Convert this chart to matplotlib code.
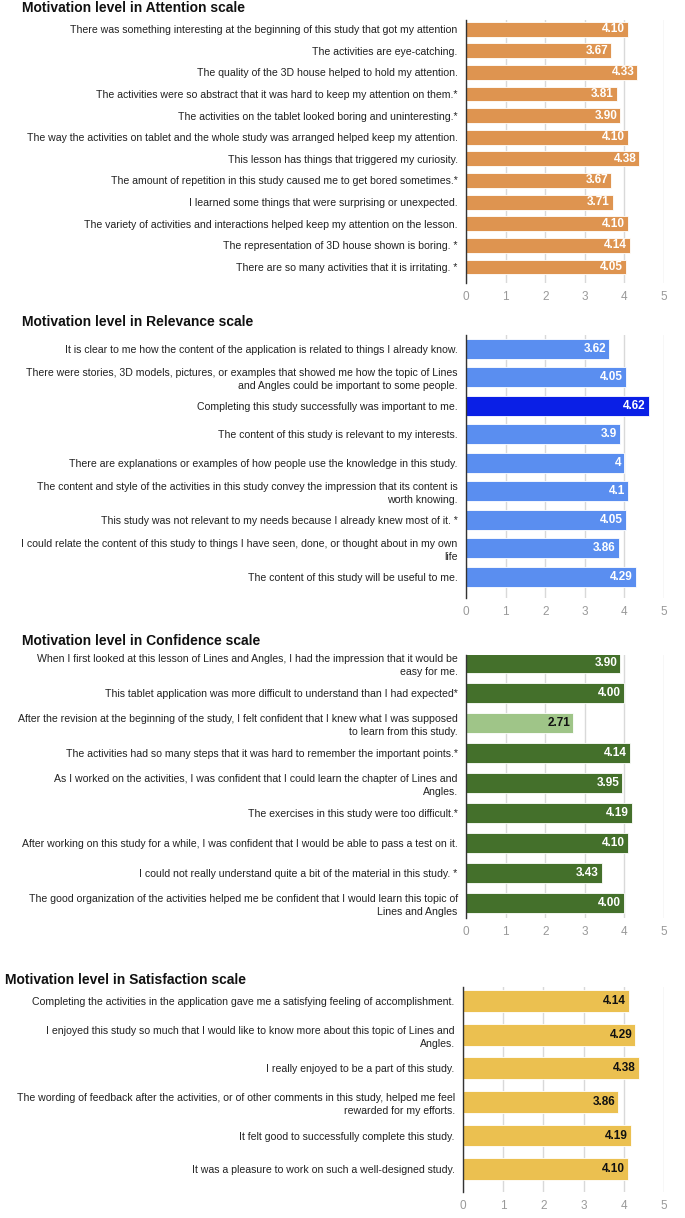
import matplotlib.pyplot as plt

plt.rcParams['font.family'] = ['Liberation Sans Narrow', 'Liberation Sans', 'DejaVu Sans']

# --- data ---
attention_labels = [
    "There was something interesting at the beginning of this study that got my attention",
    "The activities are eye-catching.",
    "The quality of the 3D house helped to hold my attention.",
    "The activities were so abstract that it was hard to keep my attention on them.*",
    "The activities on the tablet looked boring and uninteresting.*",
    "The way the activities on tablet and the whole study was arranged helped keep my attention.",
    "This lesson has things that triggered my curiosity.",
    "The amount of repetition in this study caused me to get bored sometimes.*",
    "I learned some things that were surprising or unexpected.",
    "The variety of activities and interactions helped keep my attention on the lesson.",
    "The representation of 3D house shown is boring. *",
    "There are so many activities that it is irritating. *",
]
attention_values = [4.10, 3.67, 4.33, 3.81, 3.90, 4.10, 4.38, 3.67, 3.71, 4.10, 4.14, 4.05]
attention_text = ["4.10", "3.67", "4.33", "3.81", "3.90", "4.10", "4.38", "3.67", "3.71", "4.10", "4.14", "4.05"]

relevance_labels = [
    "It is clear to me how the content of the application is related to things I already know.",
    "There were stories, 3D models, pictures, or examples that showed me how the topic of Lines\nand Angles could be important to some people.",
    "Completing this study successfully was important to me.",
    "The content of this study is relevant to my interests.",
    "There are explanations or examples of how people use the knowledge in this study.",
    "The content and style of the activities in this study convey the impression that its content is\nworth knowing.",
    "This study was not relevant to my needs because I already knew most of it. *",
    "I could relate the content of this study to things I have seen, done, or thought about in my own\nlife",
    "The content of this study will be useful to me.",
]
relevance_values = [3.62, 4.05, 4.62, 3.9, 4, 4.1, 4.05, 3.86, 4.29]
relevance_text = ["3.62", "4.05", "4.62", "3.9", "4", "4.1", "4.05", "3.86", "4.29"]

confidence_labels = [
    "When I first looked at this lesson of Lines and Angles, I had the impression that it would be\neasy for me.",
    "This tablet application was more difficult to understand than I had expected*",
    "After the revision at the beginning of the study, I felt confident that I knew what I was supposed\nto learn from this study.",
    "The activities had so many steps that it was hard to remember the important points.*",
    "As I worked on the activities, I was confident that I could learn the chapter of Lines and\nAngles.",
    "The exercises in this study were too difficult.*",
    "After working on this study for a while, I was confident that I would be able to pass a test on it.",
    "I could not really understand quite a bit of the material in this study. *",
    "The good organization of the activities helped me be confident that I would learn this topic of\nLines and Angles",
]
confidence_values = [3.90, 4.00, 2.71, 4.14, 3.95, 4.19, 4.10, 3.43, 4.00]
confidence_text = ["3.90", "4.00", "2.71", "4.14", "3.95", "4.19", "4.10", "3.43", "4.00"]

satisfaction_labels = [
    "Completing the activities in the application gave me a satisfying feeling of accomplishment.",
    "I enjoyed this study so much that I would like to know more about this topic of Lines and\nAngles.",
    "I really enjoyed to be a part of this study.",
    "The wording of feedback after the activities, or of other comments in this study, helped me feel\nrewarded for my efforts.",
    "It felt good to successfully complete this study.",
    "It was a pleasure to work on such a well-designed study.",
]
satisfaction_values = [4.14, 4.29, 4.38, 3.86, 4.19, 4.10]
satisfaction_text = ["4.14", "4.29", "4.38", "3.86", "4.19", "4.10"]

W, H = 685, 1218
fig = plt.figure(figsize=(W / 100, H / 100), dpi=100)


def panel(title, title_x, title_y, labels, values, texts, colors, text_colors,
          top, bottom, ylim, bar_h, x0=466, x5=664):
    ax = fig.add_axes([x0 / W, 1 - bottom / H, (x5 - x0) / W, (bottom - top) / H])
    y = list(range(len(values)))
    ax.barh(y, values, height=bar_h, color=colors, edgecolor='white',
            linewidth=0.6, zorder=3)
    for yi, v, t, tc in zip(y, values, texts, text_colors):
        ax.text(v - 0.08, yi, t, ha='right', va='center', color=tc,
                fontsize=8.5, fontweight='bold', zorder=4)
    ax.set_xlim(0, 5)
    ax.set_ylim(*ylim)
    ax.set_yticks(y)
    ax.set_yticklabels(labels, fontsize=7.6, color='#222222', linespacing=1.35)
    ax.set_xticks(range(6))
    ax.tick_params(axis='x', colors='#999999', labelsize=8.5, length=0, pad=6)
    ax.tick_params(axis='y', length=0, pad=6)
    ax.grid(axis='x', color='#d9d9d9', linewidth=1, zorder=0)
    for s in ['top', 'right', 'bottom']:
        ax.spines[s].set_visible(False)
    ax.spines['left'].set_color('#333333')
    ax.spines['left'].set_linewidth(1)
    ax.spines['left'].set_zorder(5)
    fig.text(title_x / W, 1 - title_y / H, title, fontsize=10,
             fontweight='bold', ha='left', va='center', color='#111111')
    return ax


orange = '#de9450'
panel("Motivation level in Attention scale", 22, 8,
      attention_labels, attention_values, attention_text,
      [orange] * 12, ['white'] * 12, 20, 283, (11.74, -0.42), 0.69)

rel_colors = ['#5a8ef0'] * 9
rel_colors[2] = '#0a1fe6'
panel("Motivation level in Relevance scale", 22, 322,
      relevance_labels, relevance_values, relevance_text,
      rel_colors, ['white'] * 9, 335, 598, (8.74, -0.49), 0.7)

conf_colors = ['#44702b'] * 9
conf_colors[2] = '#9fc588'
conf_text_colors = ['white'] * 9
conf_text_colors[2] = '#111111'
panel("Motivation level in Confidence scale", 22, 641,
      confidence_labels, confidence_values, confidence_text,
      conf_colors, conf_text_colors, 655, 918, (8.5, -0.27), 0.67)

panel("Motivation level in Satisfaction scale", 5, 980,
      satisfaction_labels, satisfaction_values, satisfaction_text,
      ['#ebc050'] * 6, ['#111111'] * 6, 987, 1192, (5.68, -0.42), 0.65,
      x0=463, x5=664)

fig.savefig('out.png', dpi=100)
